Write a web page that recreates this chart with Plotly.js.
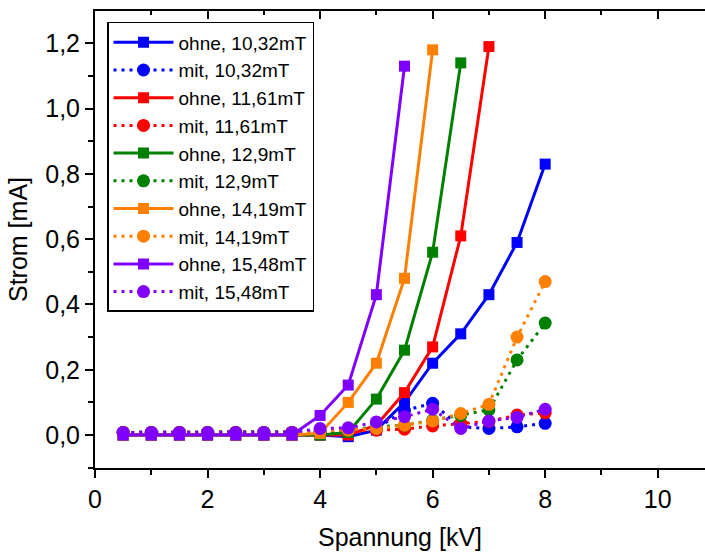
<!DOCTYPE html>
<html>
<head>
<meta charset="utf-8">
<script src="https://cdn.plot.ly/plotly-3.0.1.min.js"></script>
<style>html,body{margin:0;padding:0;background:#fff;}#chart{width:705px;height:556px;}</style>
</head>
<body>
<div id="chart"></div>
<script>
// Voltage [kV]
const spannung = [0.5, 1, 1.5, 2, 2.5, 3, 3.5, 4, 4.5, 5, 5.5, 6, 6.5, 7, 7.5, 8];

// Current [mA], "ohne" = without, "mit" = with
const ohne_1032 = [0, 0, 0, 0, 0, 0, 0, 0, -0.005, 0.015, 0.10, 0.22, 0.31, 0.43, 0.59, 0.83];
const mit_1032  = [0.008, 0.008, 0.008, 0.008, 0.008, 0.008, 0.008, 0.01, 0.01, 0.02, 0.075, 0.097, 0.025, 0.02, 0.025, 0.036];
const ohne_1161 = [0, 0, 0, 0, 0, 0, 0, 0, 0, 0.03, 0.13, 0.27, 0.61, 1.19];
const mit_1161  = [0.008, 0.008, 0.008, 0.008, 0.008, 0.008, 0.008, 0.01, 0.012, 0.015, 0.018, 0.028, 0.036, 0.042, 0.061, 0.068];
const ohne_129  = [0, 0, 0, 0, 0, 0, 0, 0, 0.008, 0.11, 0.26, 0.56, 1.14];
const mit_129   = [0.008, 0.008, 0.008, 0.008, 0.008, 0.008, 0.008, 0.01, 0.015, 0.025, 0.03, 0.045, 0.06, 0.077, 0.23, 0.343];
const ohne_1419 = [0, 0, 0, 0, 0, 0, 0, 0.005, 0.10, 0.22, 0.48, 1.18];
const mit_1419  = [0.008, 0.008, 0.008, 0.008, 0.008, 0.008, 0.008, 0.012, 0.015, 0.02, 0.03, 0.043, 0.066, 0.094, 0.30, 0.47];
const ohne_1548 = [0, 0, 0, 0, 0, 0, 0, 0.06, 0.153, 0.43, 1.13];
const mit_1548  = [0.008, 0.008, 0.008, 0.008, 0.008, 0.008, 0.008, 0.02, 0.022, 0.04, 0.056, 0.079, 0.02, 0.043, 0.054, 0.079];

const names = ["ohne, 10,32mT", "mit, 10,32mT", "ohne, 11,61mT", "mit, 11,61mT", "ohne, 12,9mT", "mit, 12,9mT",
               "ohne, 14,19mT", "mit, 14,19mT", "ohne, 15,48mT", "mit, 15,48mT"];
const colors = ["#0000FF", "#FF0000", "#008000", "#FF8000", "#8000FF"];
const series = [ohne_1032, mit_1032, ohne_1161, mit_1161, ohne_129, mit_129, ohne_1419, mit_1419, ohne_1548, mit_1548];

const traces = series.map((vals, i) => {
  const isMit = i % 2 === 1;
  const c = colors[Math.floor(i / 2)];
  return {
    x: spannung.slice(0, vals.length),
    y: vals,
    name: names[i],
    type: "scatter",
    mode: "lines+markers",
    line: {color: c, width: 3, dash: isMit ? "3px,5px" : "solid"},
    marker: {color: c, symbol: isMit ? "circle" : "square", size: isMit ? 13 : 11, line: {width: 0}},
    cliponaxis: false
  };
});
traces.push({x: [], y: [], xaxis: "x2", yaxis: "y", showlegend: false, hoverinfo: "skip", type: "scatter"});

const fontFam = "Liberation Sans, Arial, sans-serif";
const layout = {
  width: 705, height: 556,
  margin: {l: 95, r: 0, t: 11, b: 88},
  paper_bgcolor: "#fff", plot_bgcolor: "#fff",
  separators: ",.",
  font: {family: fontFam, color: "#000"},
  showlegend: true,
  xaxis: {
    range: [0, 10.84], dtick: 2, tick0: 0,
    showgrid: false, zeroline: false,
    showline: true, linecolor: "#000", linewidth: 2,
    ticks: "outside", ticklen: 8, tickwidth: 2, tickcolor: "#000",
    minor: {dtick: 1, ticks: "outside", ticklen: 5, tickwidth: 2, tickcolor: "#000"},
    tickfont: {size: 25, family: fontFam},
    title: {text: "Spannung [kV]", font: {size: 25, family: fontFam}, standoff: 16}
  },
  xaxis2: {
    overlaying: "x", side: "top", anchor: "y", matches: "x",
    range: [0, 10.84], dtick: 2, tick0: 0,
    showgrid: false, zeroline: false, showticklabels: false,
    showline: true, linecolor: "#000", linewidth: 2,
    ticks: "inside", ticklen: 8, tickwidth: 2, tickcolor: "#000",
    minor: {dtick: 1, ticks: "inside", ticklen: 4, tickwidth: 2, tickcolor: "#000"}
  },
  yaxis: {
    range: [-0.101, 1.299], dtick: 0.2, tick0: 0, tickformat: ".1f",
    showgrid: false, zeroline: false,
    showline: true, linecolor: "#000", linewidth: 2,
    ticks: "outside", ticklen: 8, tickwidth: 2, tickcolor: "#000",
    minor: {dtick: 0.1, ticks: "outside", ticklen: 5, tickwidth: 2, tickcolor: "#000"},
    tickfont: {size: 25, family: fontFam},
    title: {text: "Strom [mA]", font: {size: 25, family: fontFam}, standoff: 10}
  },
  legend: {
    x: 0.0197, y: 0.976, xanchor: "left", yanchor: "top",
    bgcolor: "#fff", bordercolor: "#000", borderwidth: 1.5,
    font: {size: 19, family: fontFam, color: "#000"},
    itemwidth: 60, tracegroupgap: 0
  }
};

Plotly.newPlot("chart", traces, layout, {displayModeBar: false, staticPlot: true});
</script>
</body>
</html>
